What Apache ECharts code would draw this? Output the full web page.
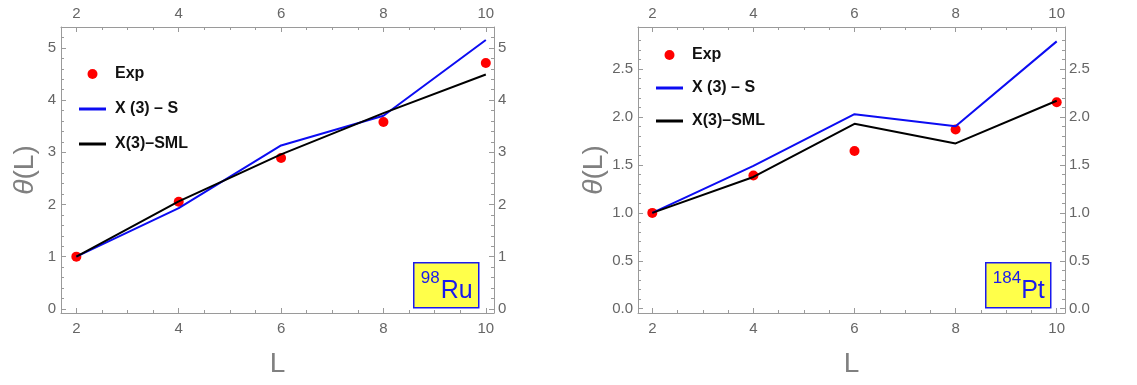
<!DOCTYPE html>
<html>
<head>
<meta charset="utf-8">
<script src="https://cdn.jsdelivr.net/npm/echarts@6/dist/echarts.min.js"></script>
<style>
  html, body { margin: 0; padding: 0; background: #fff; }
  #chart { width: 1137px; height: 385px; }
</style>
</head>
<body>
<div id="chart"></div>
<script>
// Angular momentum L
const L_VALUES = [2, 4, 6, 8, 10];
const L_TICKS = [2, 4, 6, 8, 10];

// 98Ru: theta(L)
const RU_EXP = [1.00, 2.05, 2.89, 3.58, 4.71];
const RU_S   = [1.00, 1.93, 3.13, 3.70, 5.15];
const RU_SML = [1.00, 2.06, 2.96, 3.75, 4.49];
const RU_TICKS = [0, 1, 2, 3, 4, 5];

// 184Pt: theta(L)
const PT_EXP = [1.00, 1.39, 1.645, 1.87, 2.155];
const PT_S   = [1.00, 1.49, 2.03, 1.905, 2.79];
const PT_SML = [1.00, 1.375, 1.93, 1.725, 2.17];
const PT_TICKS = [0, 0.5, 1.0, 1.5, 2.0, 2.5];

const NAMES = ['Exp', 'X (3) – S', 'X(3)–SML'];

const FONT = 'Liberation Sans';
const FRAME = '#9a9a9a';
const TICK_TEXT = '#666666';
const BLUE = '#0c0cf2';
const LINE_ICON = 'path://M0,0h27v3h-27z';

function minorTicks(lo, hi, step, majors) {
  const out = [];
  for (let k = Math.ceil(lo / step - 1e-9); k * step <= hi + 1e-9; k++) {
    const v = +(k * step).toFixed(4);
    if (!majors.some(m => Math.abs(m - v) < 1e-6)) out.push(v);
  }
  return out;
}

function pairs(xs, ys) { return xs.map((x, i) => [x, ys[i]]); }

const frameLine = { show: true, onZero: false, lineStyle: { color: FRAME, width: 1 } };
const noLine = { show: false, onZero: false };

function xAxes(grid, min, max) {
  const minor = minorTicks(min, max, 0.5, L_TICKS);
  const base = {
    gridIndex: grid, type: 'value', min: min, max: max,
    splitLine: { show: false }
  };
  const label = {
    customValues: L_TICKS, color: TICK_TEXT, fontFamily: FONT, fontSize: 15
  };
  return [
    Object.assign({}, base, {
      position: 'bottom',
      name: 'L', nameLocation: 'middle', nameGap: 37,
      nameTextStyle: { fontSize: 28, color: '#808080', fontFamily: FONT },
      axisLine: frameLine,
      axisTick: { inside: true, length: 5, customValues: L_TICKS, lineStyle: { color: FRAME } },
      axisLabel: Object.assign({ margin: 8 }, label)
    }),
    Object.assign({}, base, {
      position: 'top',
      axisLine: frameLine,
      axisTick: { inside: true, length: 5, customValues: L_TICKS, lineStyle: { color: FRAME } },
      axisLabel: Object.assign({ margin: 6 }, label)
    }),
    Object.assign({}, base, {
      position: 'bottom',
      axisLine: noLine,
      axisTick: { inside: true, length: 3, customValues: minor, lineStyle: { color: FRAME } },
      axisLabel: { show: false }
    }),
    Object.assign({}, base, {
      position: 'top',
      axisLine: noLine,
      axisTick: { inside: true, length: 3, customValues: minor, lineStyle: { color: FRAME } },
      axisLabel: { show: false }
    })
  ];
}

function yAxes(grid, min, max, ticks, minorStep, fmt) {
  const minor = minorTicks(Math.max(min, 0), max - 0.05, minorStep, ticks);
  const base = {
    gridIndex: grid, type: 'value', min: min, max: max,
    splitLine: { show: false }
  };
  const label = {
    customValues: ticks, color: TICK_TEXT, fontFamily: FONT, fontSize: 15, formatter: fmt
  };
  return [
    Object.assign({}, base, {
      position: 'left',
      name: '{i|θ}(L)', nameLocation: 'middle', nameGap: 22,
      nameTextStyle: {
        fontSize: 28, color: '#808080', fontFamily: FONT,
        rich: { i: { fontSize: 28, color: '#808080', fontFamily: FONT, fontStyle: 'italic' } }
      },
      axisLine: frameLine,
      axisTick: { inside: true, length: 5, customValues: ticks, lineStyle: { color: FRAME } },
      axisLabel: Object.assign({ margin: 5 }, label)
    }),
    Object.assign({}, base, {
      position: 'right',
      axisLine: frameLine,
      axisTick: { inside: true, length: 5, customValues: ticks, lineStyle: { color: FRAME } },
      axisLabel: Object.assign({ margin: 4 }, label)
    }),
    Object.assign({}, base, {
      position: 'left',
      axisLine: noLine,
      axisTick: { inside: true, length: 3, customValues: minor, lineStyle: { color: FRAME } },
      axisLabel: { show: false }
    }),
    Object.assign({}, base, {
      position: 'right',
      axisLine: noLine,
      axisTick: { inside: true, length: 3, customValues: minor, lineStyle: { color: FRAME } },
      axisLabel: { show: false }
    })
  ];
}

function panelSeries(xIdx, yIdx, exp, s, sml) {
  return [
    {
      name: NAMES[0], type: 'scatter', xAxisIndex: xIdx, yAxisIndex: yIdx,
      data: pairs(L_VALUES, exp), symbol: 'circle', symbolSize: 10,
      itemStyle: { color: '#ff0000', opacity: 1 }, silent: true
    },
    {
      name: NAMES[1], type: 'line', xAxisIndex: xIdx, yAxisIndex: yIdx,
      data: pairs(L_VALUES, s), symbol: 'none',
      lineStyle: { color: BLUE, width: 2 }, itemStyle: { color: BLUE }
    },
    {
      name: NAMES[2], type: 'line', xAxisIndex: xIdx, yAxisIndex: yIdx,
      data: pairs(L_VALUES, sml), symbol: 'none',
      lineStyle: { color: '#000000', width: 2 }, itemStyle: { color: '#000000' }
    }
  ];
}

function legendAt(left, top, gap) {
  return {
    orient: 'vertical', left: left, top: top,
    itemWidth: 27, itemHeight: 10, itemGap: gap,
    selectedMode: false,
    symbolKeepAspect: true,
    data: [
      { name: NAMES[0], icon: 'circle', itemStyle: { opacity: 1 } },
      { name: NAMES[1], icon: LINE_ICON },
      { name: NAMES[2], icon: LINE_ICON }
    ],
    textStyle: { fontFamily: FONT, fontWeight: 'bold', fontSize: 16, color: '#111', padding: [0, 0, 0, 4] }
  };
}

function nucleusLabel(x, y, w, h, mass, symbol) {
  return {
    type: 'group', left: x, top: y,
    children: [
      {
        type: 'rect', shape: { x: 0, y: 0, width: w, height: h },
        style: { fill: '#ffff4a', stroke: '#1a1aee', lineWidth: 1.5 }
      },
      {
        type: 'text', x: 7, y: 7,
        style: { text: mass, fontFamily: FONT, fontSize: 17, fill: '#1a1aee' }
      },
      {
        type: 'text', x: w - 6, y: h - 4,
        style: { text: symbol, fontFamily: FONT, fontSize: 25, fill: '#1a1aee',
                 align: 'right', verticalAlign: 'bottom' }
      }
    ]
  };
}

const chart = echarts.init(document.getElementById('chart'), null, { renderer: 'canvas' });

const xs0 = xAxes(0, 1.70, 10.16);
const xs1 = xAxes(1, 1.717, 10.164);
const ys0 = yAxes(0, -0.08, 5.40, RU_TICKS, 0.2, v => String(v));
const ys1 = yAxes(1, -0.045, 2.94, PT_TICKS, 0.1, v => v.toFixed(1));

chart.setOption({
  animation: false,
  backgroundColor: '#ffffff',
  grid: [
    { left: 61, top: 27, width: 433, height: 286 },
    { left: 638, top: 27, width: 427, height: 286 }
  ],
  xAxis: xs0.concat(xs1),
  yAxis: ys0.concat(ys1),
  legend: [legendAt(74, 61, 19), legendAt(651, 42, 17)],
  series: panelSeries(0, 0, RU_EXP, RU_S, RU_SML)
    .concat(panelSeries(4, 4, PT_EXP, PT_S, PT_SML)),
  graphic: [
    nucleusLabel(413, 262, 65, 45, '98', 'Ru'),
    nucleusLabel(985, 262, 65, 45, '184', 'Pt')
  ]
});
</script>
</body>
</html>
